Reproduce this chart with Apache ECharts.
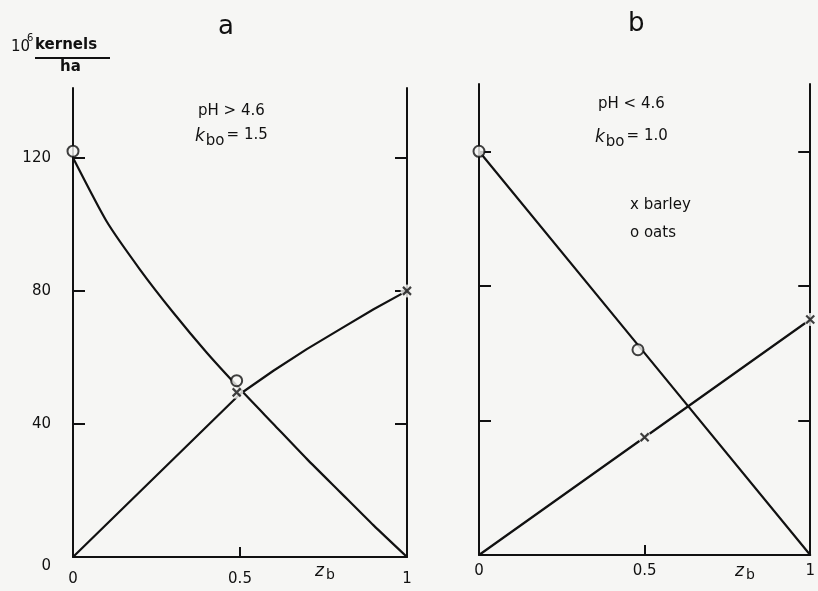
<!DOCTYPE html>
<html>
<head>
<meta charset="utf-8">
<script src="https://cdn.jsdelivr.net/npm/echarts@6/dist/echarts.min.js"></script>
<style>
  html, body { margin: 0; padding: 0; background: #f6f6f4; }
  #chart { width: 818px; height: 591px; }
</style>
</head>
<body>
<div id="chart"></div>
<script>
// Panel a (pH > 4.6, k_bo = 1.5)
const zOatsA = [0, 0.1, 0.2, 0.3, 0.4, 0.5, 0.6, 0.7, 0.8, 0.9, 1];
const oatsA = [120, 101, 86.5, 73.5, 61.5, 50.5, 40, 29.5, 19.5, 9.5, 0];
const zBarleyA = [0, 0.5, 0.6, 0.7, 0.8, 0.9, 1];
const barleyA = [0, 49, 56, 62.5, 68.5, 74.5, 80];
const oatsMarkA = [[0, 122], [0.49, 53]];
const barleyMarkA = [[0.49, 49.5], [1, 80]];

// Panel b (pH < 4.6, k_bo = 1.0)
const zB = [0, 0.5, 1];
const oatsB = [120, 60, 0];
const barleyB = [0, 35, 70];
const oatsMarkB = [[0, 120], [0.48, 61]];
const barleyMarkB = [[0.5, 35], [1, 70]];

// Ticks e rótulos
const yTicks = [40, 80, 120];
const yLabels = [0, 40, 80, 120];
const xTicks = [0.5];
const xLabels = [0, 0.5, 1];

const BG = '#f6f6f4';
const INK = '#111';
const FONT = 'DejaVu Sans';

const chart = echarts.init(document.getElementById('chart'));

function pares(xs, ys) {
    return xs.map((x, i) => [x, ys[i]]);
}

function eixoX(grid, margem) {
    return {
        type: 'value', gridIndex: grid, min: 0, max: 1,
        axisLine: { show: true, lineStyle: { color: INK, width: 2 } },
        axisTick: { show: true, inside: true, length: 10, customValues: xTicks, lineStyle: { color: INK, width: 2 } },
        axisLabel: {
            customValues: xLabels, margin: margem, color: INK, fontSize: 15, fontFamily: FONT,
            formatter: v => String(v)
        },
        splitLine: { show: false }
    };
}

function eixoY(grid, pos, max, labels) {
    return {
        type: 'value', gridIndex: grid, position: pos, min: 0, max: max,
        axisLine: { show: true, onZero: false, lineStyle: { color: INK, width: 2 } },
        axisTick: { show: true, inside: true, length: 12, customValues: yTicks, lineStyle: { color: INK, width: 2 } },
        axisLabel: labels ? {
            customValues: yLabels, margin: 22, color: INK, fontSize: 15, fontFamily: FONT,
            formatter: v => v === 0 ? '{z|0}' : String(v),
            rich: { z: { fontSize: 15, fontFamily: FONT, color: INK, padding: [18, 0, 0, 0] } }
        } : { show: false },
        splitLine: { show: false }
    };
}

function linha(name, x, y, data, smooth) {
    return {
        name: name, type: 'line', xAxisIndex: x, yAxisIndex: y, data: data,
        symbol: 'none', smooth: smooth || false, z: 2,
        lineStyle: { color: INK, width: 2.2 }
    };
}

const simboloX = 'path://M0,0L10,10M10,0L0,10';

function marcasX(name, x, y, data) {
    return [
        {   // fundo que interrompe a linha em volta do x
            name: name + ' fundo', type: 'scatter', xAxisIndex: x, yAxisIndex: y, data: data,
            symbol: 'circle', symbolSize: 13, z: 3, silent: true,
            itemStyle: { color: BG, borderWidth: 0 }
        },
        {
            name: name, type: 'scatter', xAxisIndex: x, yAxisIndex: y, data: data,
            symbol: simboloX, symbolSize: 8, z: 4,
            itemStyle: { color: 'transparent', borderColor: INK, borderWidth: 2.2 }
        }
    ];
}

function marcasO(name, x, y, data) {
    return {
        name: name, type: 'scatter', xAxisIndex: x, yAxisIndex: y, data: data,
        symbol: 'circle', symbolSize: 11, z: 4,
        itemStyle: { color: BG, borderColor: INK, borderWidth: 2 }
    };
}

const txt = (x, y, text, extra) => ({
    type: 'text', x: x, y: y,
    style: Object.assign({ text: text, fill: INK, font: '15px "' + FONT + '"' }, extra || {})
});

const kbo = (x, y, val) => ({
    type: 'text', x: x, y: y,
    style: {
        text: '{k|k}{s|bo}{e|= ' + val + '}',
        fill: INK,
        rich: {
            k: { fontSize: 17, fontStyle: 'italic', fontFamily: FONT, fill: INK },
            s: { fontSize: 15, fontFamily: FONT, fill: INK, padding: [10, 2, 0, 1] },
            e: { fontSize: 15, fontFamily: FONT, fill: INK, padding: [0, 0, 2, 0] }
        }
    }
});

const zb = (x, y) => ({
    type: 'text', x: x, y: y,
    style: {
        text: '{z|z}{b|b}',
        rich: {
            z: { fontSize: 17, fontStyle: 'italic', fontFamily: FONT, fill: INK },
            b: { fontSize: 14, fontFamily: FONT, fill: INK, padding: [7, 0, 0, 2] }
        }
    }
});

const option = {
    backgroundColor: BG,
    animation: false,
    grid: [
        { left: 73, top: 88, width: 334, height: 469 },
        { left: 479, top: 84, width: 333, height: 471 }
    ],
    xAxis: [eixoX(0, 15), eixoX(1, 9)],
    yAxis: [
        eixoY(0, 'left', 141, true),
        eixoY(0, 'right', 141, false),
        eixoY(1, 'left', 140, false),
        eixoY(1, 'right', 140, false)
    ],
    series: [
        linha('oats a', 0, 0, pares(zOatsA, oatsA), 0.2),
        linha('barley a', 0, 0, pares(zBarleyA, barleyA)),
        linha('oats b', 1, 2, pares(zB, oatsB)),
        linha('barley b', 1, 2, pares(zB, barleyB)),
        ...marcasX('barley a', 0, 0, barleyMarkA),
        marcasO('oats a', 0, 0, oatsMarkA),
        ...marcasX('barley b', 1, 2, barleyMarkB),
        marcasO('oats b', 1, 2, oatsMarkB)
    ],
    graphic: [
        // títulos dos painéis
        txt(218, 14, 'a', { font: '26px "' + FONT + '"' }),
        txt(628, 11, 'b', { font: '26px "' + FONT + '"' }),
        // unidade do eixo y
        txt(11, 40, '10', { font: '15px "' + FONT + '"' }),
        txt(27, 33, '6', { font: '10px "' + FONT + '"' }),
        txt(35, 38, 'kernels', { font: 'bold 15px "' + FONT + '"' }),
        { type: 'line', shape: { x1: 35, y1: 58, x2: 110, y2: 58 }, style: { stroke: INK, lineWidth: 2 } },
        txt(60, 60, 'ha', { font: 'bold 15px "' + FONT + '"' }),
        // anotações painel a
        txt(198, 104, 'pH > 4.6'),
        kbo(195, 124, '1.5'),
        // anotações painel b
        txt(598, 97, 'pH < 4.6'),
        kbo(595, 125, '1.0'),
        txt(630, 198, 'x barley'),
        txt(630, 226, 'o oats'),
        // rótulos z_b
        zb(315, 561),
        zb(735, 561)
    ]
};

chart.setOption(option);

window.addEventListener('resize', function() {
    chart.resize();
});
</script>
</body>
</html>
